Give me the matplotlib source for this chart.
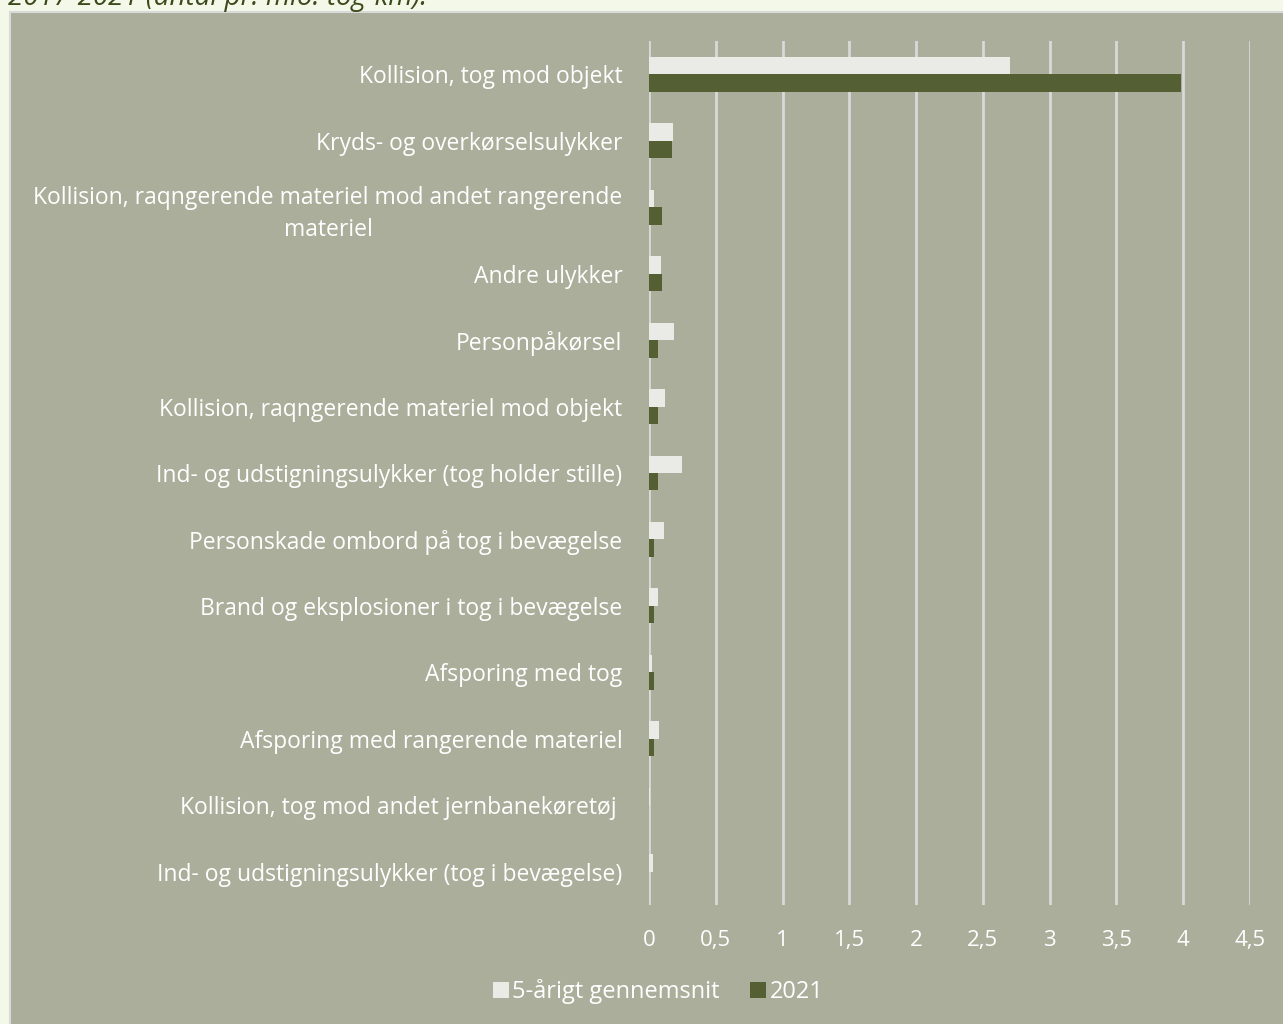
import matplotlib.pyplot as plt
from matplotlib.patches import Rectangle

categories = [
    "Kollision, tog mod objekt",
    "Kryds- og overkørselsulykker",
    "Kollision, raqngerende materiel mod andet rangerende\nmateriel",
    "Andre ulykker",
    "Personpåkørsel",
    "Kollision, raqngerende materiel mod objekt",
    "Ind- og udstigningsulykker (tog holder stille)",
    "Personskade ombord på tog i bevægelse",
    "Brand og eksplosioner i tog i bevægelse",
    "Afsporing med tog",
    "Afsporing med rangerende materiel",
    "Kollision, tog mod andet jernbanekøretøj ",
    "Ind- og udstigningsulykker (tog i bevægelse)",
]
avg5 = [2.70, 0.18, 0.04, 0.09, 0.19, 0.12, 0.25, 0.11, 0.065, 0.02, 0.075, 0.01, 0.03]
y2021 = [3.98, 0.17, 0.10, 0.10, 0.07, 0.07, 0.07, 0.035, 0.035, 0.035, 0.035, 0.0, 0.0]
xticks = [0, 0.5, 1, 1.5, 2, 2.5, 3, 3.5, 4, 4.5]
xticklabels = ["0", "0,5", "1", "1,5", "2", "2,5", "3", "3,5", "4", "4,5"]

plt.rcParams["font.family"] = ["Open Sans", "DejaVu Sans"]

W, H = 1283, 1024
fig = plt.figure(figsize=(W / 100, H / 100), dpi=100)
fig.patch.set_facecolor("#f4f8e9")

# chart box
fig.patches.append(Rectangle((10 / W, -0.01), 1, 1 - 12 / H + 0.01, transform=fig.transFigure,
                             facecolor="#abae9a", edgecolor="#d9d9d9", lw=1.5, zorder=-1))

# clipped title line at very top (only its lower part shows)
fig.text(8 / W, 1 - 5 / H, "2017-2021 (antal pr. mio. tog-km).", fontsize=20,
         style="italic", color="#3b4a1a", va="baseline", ha="left")

ax = fig.add_axes([649 / W, 119 / H, 601 / W, 864 / H])
ax.set_facecolor("none")

pos = list(range(len(categories)))
h = 0.263
ax.barh([p - h / 2 for p in pos], avg5, height=h, color="#eaeae6", label="5-årigt gennemsnit", zorder=3)
ax.barh([p + h / 2 for p in pos], y2021, height=h, color="#546034", label="2021", zorder=3)

ax.set_ylim(len(categories) - 0.5, -0.5)
ax.set_xlim(0, 4.5)
ax.set_yticks(pos)
ax.set_yticklabels(categories, color="white", fontsize=16.5, multialignment="center",
                   linespacing=1.45, va="center_baseline")
ax.set_xticks(xticks)
ax.set_xticklabels(xticklabels, color="white", fontsize=16)
ax.tick_params(axis="y", length=0, pad=19)
ax.tick_params(axis="x", length=0, pad=18)
ax.grid(axis="x", color="#d9d9d9", lw=2, zorder=1)
for s in ax.spines.values():
    s.set_visible(False)

fig.legend(loc="center", bbox_to_anchor=(0.513, 1 - 992 / H), ncol=2, frameon=False,
           fontsize=17, labelcolor="white", handlelength=0.68, handleheight=0.68,
           handletextpad=0.15, columnspacing=1.3)

fig.savefig("out.png", dpi=100, facecolor=fig.get_facecolor())
